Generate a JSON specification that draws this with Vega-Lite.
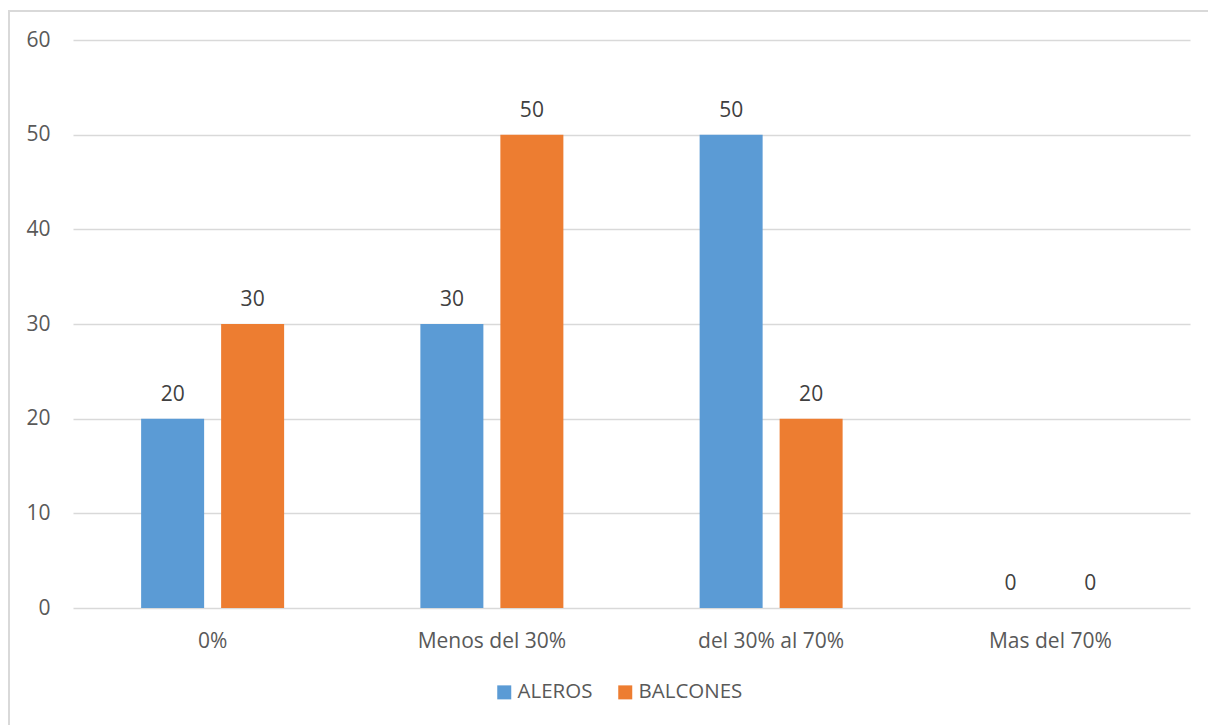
{
  "$schema": "https://vega.github.io/schema/vega-lite/v6.json",
  "width": 1205,
  "height": 720,
  "autosize": {"type": "none"},
  "padding": {"left": 9, "top": 11, "right": 0, "bottom": 0},
  "background": "white",
  "config": {
    "view": {"stroke": "#d9d9d9", "strokeWidth": 2},
    "font": "Open Sans"
  },
  "data": {
    "values": [
      {"cat": "0%", "serie": "ALEROS", "v": 20},
      {"cat": "0%", "serie": "BALCONES", "v": 30},
      {"cat": "Menos del 30%", "serie": "ALEROS", "v": 30},
      {"cat": "Menos del 30%", "serie": "BALCONES", "v": 50},
      {"cat": "del 30% al 70%", "serie": "ALEROS", "v": 50},
      {"cat": "del 30% al 70%", "serie": "BALCONES", "v": 20},
      {"cat": "Mas del 70%", "serie": "ALEROS", "v": 0},
      {"cat": "Mas del 70%", "serie": "BALCONES", "v": 0}
    ]
  },
  "encoding": {
    "x": {
      "field": "cat",
      "type": "nominal",
      "sort": ["0%", "Menos del 30%", "del 30% al 70%", "Mas del 70%"],
      "scale": {"range": [64, 1181], "paddingInner": 0, "paddingOuter": 0},
      "axis": {
        "orient": "bottom",
        "offset": -123,
        "title": null,
        "labelAngle": 0,
        "labelBaseline": "alphabetic",
        "labelPadding": 39,
        "ticks": false,
        "tickSize": 0,
        "domain": false,
        "grid": false,
        "labelFontSize": 21,
        "labelColor": "#595959",
        "labelFont": "Open Sans"
      }
    },
    "xOffset": {
      "field": "serie",
      "type": "nominal",
      "sort": ["ALEROS", "BALCONES"],
      "scale": {"paddingInner": 0.2125, "paddingOuter": 0.8516}
    },
    "y": {
      "field": "v",
      "type": "quantitative",
      "scale": {"domain": [0, 60], "range": [597, 29], "nice": false, "zero": true},
      "axis": {
        "orient": "left",
        "offset": -64,
        "title": null,
        "values": [0, 10, 20, 30, 40, 50, 60],
        "labelPadding": 23,
        "ticks": false,
        "tickSize": 0,
        "domain": false,
        "grid": true,
        "gridColor": "#d9d9d9",
        "gridWidth": 1.5,
        "labelFontSize": 21,
        "labelColor": "#595959",
        "labelFont": "Open Sans"
      }
    }
  },
  "layer": [
    {
      "mark": {"type": "bar"},
      "encoding": {
        "color": {
          "field": "serie",
          "type": "nominal",
          "sort": ["ALEROS", "BALCONES"],
          "scale": {"domain": ["ALEROS", "BALCONES"], "range": ["#5B9BD5", "#ED7D31"]},
          "legend": {
            "orient": "none",
            "legendX": 485,
            "legendY": 671,
            "direction": "horizontal",
            "title": null,
            "symbolType": "square",
            "symbolSize": 196,
            "symbolStrokeWidth": 0,
            "labelFontSize": 20.5,
            "labelColor": "#595959",
            "labelFont": "Open Sans",
            "labelOffset": 3,
            "columnPadding": 22,
            "padding": 0
          }
        }
      }
    },
    {
      "mark": {"type": "text", "baseline": "alphabetic", "dy": -18, "fontSize": 21, "color": "#404040", "font": "Open Sans"},
      "encoding": {"text": {"field": "v", "type": "quantitative"}}
    }
  ]
}
